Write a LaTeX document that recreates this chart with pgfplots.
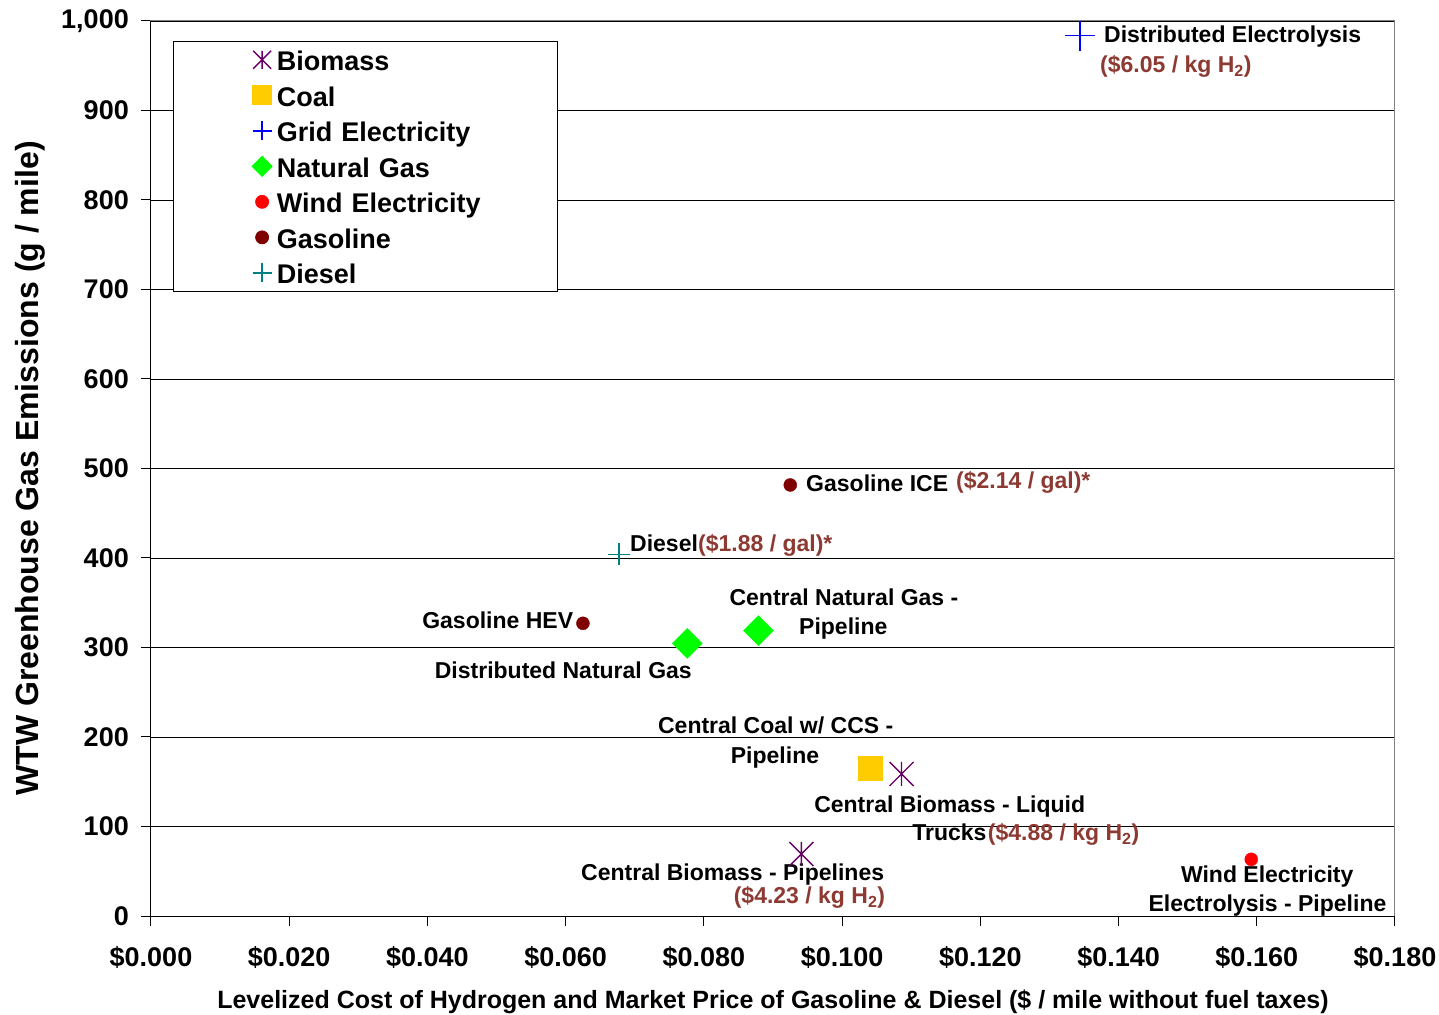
\documentclass[border=0pt]{standalone}
\usepackage{fontspec}
\setmainfont{Liberation Sans}
\usepackage{pgfplots}
\pgfplotsset{compat=1.18}

\definecolor{biomass}{RGB}{102,0,102}
\definecolor{coal}{RGB}{255,204,0}
\definecolor{grid}{RGB}{0,0,255}
\definecolor{natgas}{RGB}{0,255,0}
\definecolor{wind}{RGB}{255,0,0}
\definecolor{gasoline}{RGB}{128,0,0}
\definecolor{diesel}{RGB}{0,128,128}
\definecolor{price}{RGB}{140,58,50}

% X with a vertical bar through it
\pgfdeclareplotmark{xstar}{%
  \pgfpathmoveto{\pgfqpoint{0pt}{\pgfplotmarksize}}%
  \pgfpathlineto{\pgfqpoint{0pt}{-\pgfplotmarksize}}%
  \pgfpathmoveto{\pgfqpoint{-\pgfplotmarksize}{\pgfplotmarksize}}%
  \pgfpathlineto{\pgfqpoint{\pgfplotmarksize}{-\pgfplotmarksize}}%
  \pgfpathmoveto{\pgfqpoint{-\pgfplotmarksize}{-\pgfplotmarksize}}%
  \pgfpathlineto{\pgfqpoint{\pgfplotmarksize}{\pgfplotmarksize}}%
  \pgfusepathqstroke}
% square turned by 45 degrees
\pgfdeclareplotmark{sqdiamond}{%
  \pgfpathmoveto{\pgfqpoint{0pt}{\pgfplotmarksize}}%
  \pgfpathlineto{\pgfqpoint{\pgfplotmarksize}{0pt}}%
  \pgfpathlineto{\pgfqpoint{0pt}{-\pgfplotmarksize}}%
  \pgfpathlineto{\pgfqpoint{-\pgfplotmarksize}{0pt}}%
  \pgfpathclose
  \pgfusepathqfillstroke}

\begin{document}
\begin{tikzpicture}[
  lab/.style={font=\fontsize{23}{27}\selectfont\bfseries, inner sep=0pt},
  cost/.style={lab, text=price}]
\begin{axis}[
  scale only axis,
  width=1244pt, height=895pt,
  xmin=0, xmax=0.18, ymin=0, ymax=1000,
  clip=false,
  axis line style={draw=gray, line width=1pt},
  tick pos=left,
  tick align=outside,
  major tick length=10pt,
  tick style={black, line width=1pt},
  xtick={0,0.02,0.04,0.06,0.08,0.1,0.12,0.14,0.16,0.18},
  xticklabels={\$0.000,\$0.020,\$0.040,\$0.060,\$0.080,\$0.100,\$0.120,\$0.140,\$0.160,\$0.180},
  ytick={0,100,200,300,400,500,600,700,800,900,1000},
  yticklabels={0,100,200,300,400,500,600,700,800,900,{1,000}},
  ticklabel style={font=\fontsize{27}{32}\selectfont\bfseries},
  xticklabel style={inner sep=0pt, yshift=-20pt},
  yticklabel style={inner sep=0pt, xshift=-12pt},
  ymajorgrids,
  major grid style={black, line width=0.9pt},
  xlabel={Levelized Cost of Hydrogen and Market Price of Gasoline \& Diesel (\$ / mile without fuel taxes)},
  ylabel={WTW Greenhouse Gas Emissions (g / mile)},
  xlabel style={font=\fontsize{25}{30}\selectfont\bfseries, at={(rel axis cs:0.5,0)}, anchor=center, yshift=-86pt, inner sep=0pt},
  ylabel style={font=\fontsize{32}{38}\selectfont\bfseries, at={(rel axis cs:0,0.5)}, anchor=center, yshift=121pt, inner sep=0pt},
  legend style={at={(rel axis cs:0.0177,0.978)}, anchor=north west,
    draw=black, line width=0.8pt, fill=white,
    inner xsep=0pt, inner ysep=4pt, row sep=6pt,
    font=\fontsize{27}{32}\selectfont\bfseries,
    nodes={inner xsep=2pt, inner ysep=0pt, text height=25.5pt, text depth=4pt, text width=279pt, align=left}},
  legend cell align=left,
  legend image code/.code={%
    \path (-88pt,0pt) (12pt,0pt);
    \draw[mark repeat=1,mark phase=1,#1] plot coordinates {(0pt,0pt)};},
]
\addplot[only marks, mark=xstar, mark size=12pt, draw=biomass, line width=1.4pt,
  legend image post style={mark size=9pt}]
  coordinates {(0.1086,158.7) (0.0941,69.3)};
\addlegendentry{Biomass}
\addplot[only marks, mark=square*, mark size=12pt, draw=coal, fill=coal,
  legend image post style={mark size=9.5pt}]
  coordinates {(0.1041,165.2)};
\addlegendentry{Coal}
\addplot[only marks, mark=+, mark size=15pt, draw=grid, line width=1.6pt,
  legend image post style={mark size=9.5pt, line width=1.4pt}]
  coordinates {(0.1344,983.6)};
\addlegendentry{Grid Electricity}
\addplot[only marks, mark=sqdiamond, mark size=15pt, draw=natgas, fill=natgas,
  legend image post style={mark size=10pt}]
  coordinates {(0.0776,304.6) (0.0879,318.8)};
\addlegendentry{Natural Gas}
\addplot[only marks, mark=*, mark size=6.5pt, draw=wind, fill=wind]
  coordinates {(0.1592,63.3)};
\addlegendentry{Wind Electricity}
\addplot[only marks, mark=*, mark size=6.5pt, draw=gasoline, fill=gasoline]
  coordinates {(0.0925,481.6) (0.0625,327.0)};
\addlegendentry{Gasoline}
\addplot[only marks, mark=+, mark size=11pt, draw=diesel, line width=1.4pt,
  legend image post style={mark size=9.5pt}]
  coordinates {(0.0677,404.1)};
\addlegendentry{Diesel}

% pathway names and costs
\node[lab, anchor=base west] at (axis cs:0.13789,976.2) {Distributed Electrolysis};
\node[cost, anchor=base west] at (axis cs:0.13732,942.7) {(\$6.05 / kg H\textsubscript{2})};
\node[lab, anchor=base west] at (axis cs:0.09478,474.1) {Gasoline ICE};
\node[cost, anchor=base west] at (axis cs:0.11648,477.9) {(\$2.14 / gal)*};
\node[lab, anchor=base west] at (axis cs:0.06931,407.0) {Diesel};
\node[cost, anchor=base west] at (axis cs:0.07915,407.8) {(\$1.88 / gal)*};
\node[lab, anchor=base east] at (axis cs:0.06111,320.7) {Gasoline HEV};
\node[lab, anchor=base] at (axis cs:0.10027,346.7) {Central Natural Gas -};
\node[lab, anchor=base] at (axis cs:0.10017,314.0) {Pipeline};
\node[lab, anchor=base] at (axis cs:0.05966,265.6) {Distributed Natural Gas};
\node[lab, anchor=base] at (axis cs:0.09039,203.4) {Central Coal w/ CCS -};
\node[lab, anchor=base] at (axis cs:0.09029,170.6) {Pipeline};
\node[lab, anchor=base] at (axis cs:0.11557,115.4) {Central Biomass - Liquid};
\node[lab, anchor=base east] at (axis cs:0.12092,84.1) {Trucks};
\node[cost, anchor=base west] at (axis cs:0.12107,84.1) {(\$4.88 / kg H\textsubscript{2})};
\node[lab, anchor=base east] at (axis cs:0.10611,40.2) {Central Biomass - Pipelines};
\node[cost, anchor=base] at (axis cs:0.09528,14.2) {(\$4.23 / kg H\textsubscript{2})};
\node[lab, anchor=base] at (axis cs:0.16151,37.2) {Wind Electricity};
\node[lab, anchor=base] at (axis cs:0.16155,4.8) {Electrolysis - Pipeline};

% frame: dark on the left and bottom, grey on the top and right
\draw[gray, line width=1pt] (rel axis cs:0,1) -- (rel axis cs:1,1) -- (rel axis cs:1,0);
\draw[black, line width=1pt] (rel axis cs:0,1) -- (rel axis cs:0,0) -- (rel axis cs:1,0);
\end{axis}
\pgfresetboundingbox
\path (-151pt,-98pt) rectangle (1288pt,916pt);
\end{tikzpicture}
\end{document}
